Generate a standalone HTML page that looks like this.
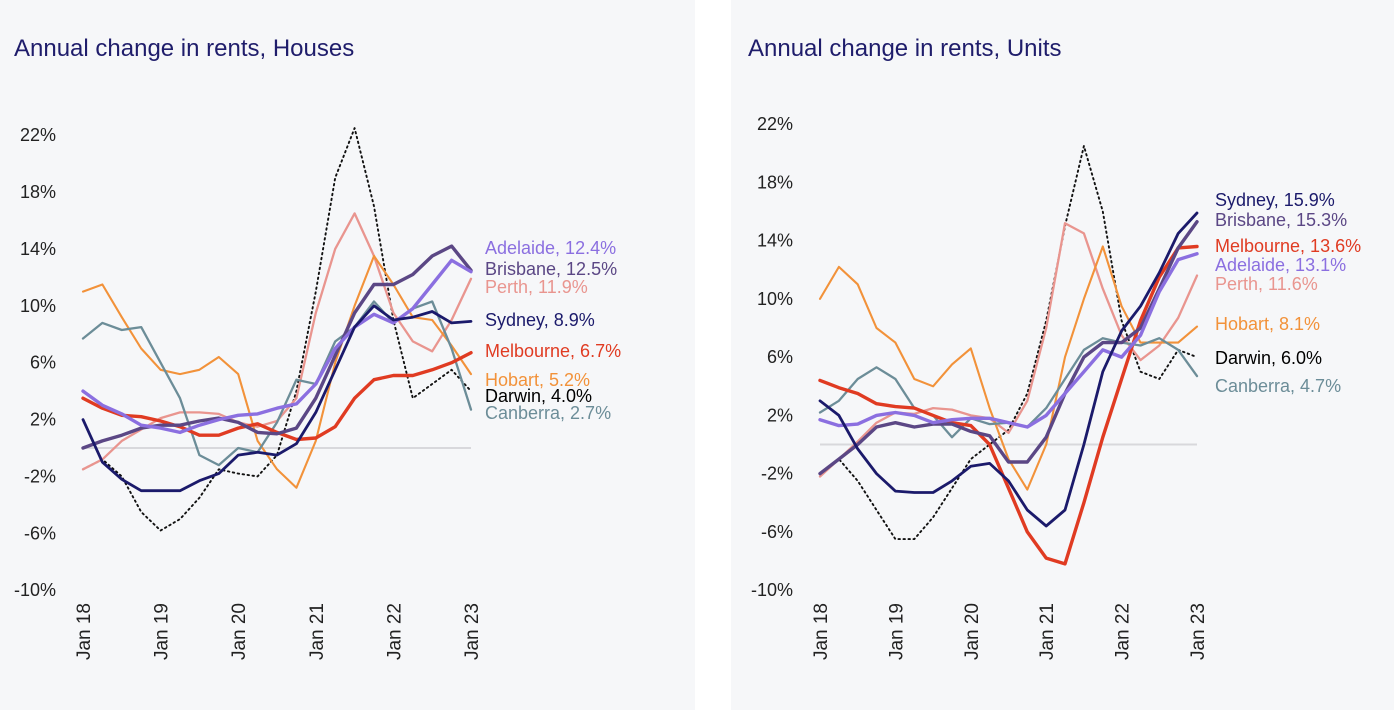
<!DOCTYPE html>
<html><head><meta charset="utf-8">
<style>
body{margin:0;background:#fff;width:1394px;height:710px;overflow:hidden;font-family:"Liberation Sans",sans-serif}
.panel{position:absolute;top:0;height:710px;background:#f6f7f9}
svg{position:absolute;left:0;top:0}
</style></head>
<body>
<div class="panel" style="left:0;width:695px"></div>
<div class="panel" style="left:731px;width:663px"></div>
<svg id="chart" width="1394" height="710"></svg>
<script>
const quarters = ["Jan 18","Apr 18","Jul 18","Oct 18","Jan 19","Apr 19","Jul 19","Oct 19","Jan 20","Apr 20","Jul 20","Oct 20","Jan 21","Apr 21","Jul 21","Oct 21","Jan 22","Apr 22","Jul 22","Oct 22","Jan 23"];
const xTickLabels = ["Jan 18","Jan 19","Jan 20","Jan 21","Jan 22","Jan 23"];
const yTicks = [22,18,14,10,6,2,-2,-6,-10];
const cities = ["Darwin","Perth","Hobart","Canberra","Melbourne","Brisbane","Adelaide","Sydney"];

const housesSydney = [2,-1,-2.2,-3,-3,-3,-2.3,-1.8,-0.5,-0.3,-0.5,0.3,2.5,5.5,8.5,10,9,9.2,9.6,8.8,8.9];
const housesAdelaide = [4,3,2.4,1.6,1.4,1.1,1.6,2,2.3,2.4,2.8,3.1,4.5,7,8.5,9.4,8.8,9.8,11.5,13.2,12.4];
const housesBrisbane = [0,0.5,0.9,1.4,1.6,1.6,1.9,2.1,1.8,1.1,1,1.4,3.5,6.5,9.5,11.5,11.5,12.2,13.5,14.2,12.5];
const housesPerth = [-1.5,-0.8,0.5,1.3,2.1,2.5,2.5,2.4,1.8,1.5,1.9,3.5,9.5,14,16.5,13.5,9.5,7.5,6.8,9,11.9];
const housesDarwin = [-1.5,-0.8,-2,-4.5,-5.8,-5,-3.5,-1.5,-1.8,-2,-0.5,4,11,19,22.5,17,9,3.5,4.5,5.5,4];
const housesMelbourne = [3.5,2.8,2.3,2.2,1.9,1.5,0.9,0.9,1.4,1.7,1.1,0.6,0.7,1.5,3.5,4.8,5.1,5.1,5.5,6,6.7];
const housesHobart = [11,11.5,9.2,7,5.5,5.2,5.5,6.4,5.2,0.5,-1.5,-2.8,0.5,6,10,13.5,11.5,9.2,9,7.2,5.2];
const housesCanberra = [7.7,8.8,8.3,8.5,6,3.5,-0.5,-1.2,0,-0.3,1.8,4.8,4.5,7.5,8.5,10.3,8.8,9.8,10.3,7,2.7];

const unitsSydney = [3,2,-0.3,-2,-3.2,-3.3,-3.3,-2.5,-1.5,-1.3,-2.5,-4.5,-5.6,-4.5,0,5,7.8,9.5,11.8,14.5,15.9];
const unitsBrisbane = [-2,-1,0,1.2,1.5,1.2,1.4,1.4,0.9,0.6,-1.2,-1.2,0.5,3.5,6,7,7,8,10.7,13.5,15.3];
const unitsMelbourne = [4.4,3.9,3.5,2.8,2.6,2.5,2,1.5,1.3,0,-3,-6,-7.8,-8.2,-4,0.5,4.5,8.5,11.5,13.5,13.6];
const unitsAdelaide = [1.7,1.3,1.4,2,2.2,2,1.5,1.7,1.8,1.8,1.5,1.2,2,3.5,5,6.5,6,7.5,10.5,12.7,13.1];
const unitsPerth = [-2.2,-1,0.2,1.5,2.2,2.1,2.5,2.4,2,1.8,0.8,3,8,15.2,14.5,10.7,7.5,5.8,6.8,8.7,11.6];
const unitsHobart = [10,12.2,11,8,7,4.5,4,5.5,6.6,2.5,-1,-3.1,0,6,10,13.6,9.5,7,7,7,8.1];
const unitsDarwin = [-2,-1,-2.5,-4.5,-6.5,-6.5,-5,-3,-1,0,1,3.5,8.5,15,20.5,16,8.5,5,4.5,6.5,6];
const unitsCanberra = [2.2,3,4.5,5.3,4.5,2.5,2,0.5,1.8,1.4,1.5,1.2,2.5,4.5,6.5,7.3,7,6.8,7.3,6.5,4.7];

const housesLabels = ["Adelaide, 12.4%","Brisbane, 12.5%","Perth, 11.9%","Sydney, 8.9%","Melbourne, 6.7%","Hobart, 5.2%","Darwin, 4.0%","Canberra, 2.7%"];
const unitsLabels = ["Sydney, 15.9%","Brisbane, 15.3%","Melbourne, 13.6%","Adelaide, 13.1%","Perth, 11.6%","Hobart, 8.1%","Darwin, 6.0%","Canberra, 4.7%"];

const style = {
  Sydney:{c:"#1b1a6b",w:2.8},Brisbane:{c:"#5b4785",w:3.4},Adelaide:{c:"#8b6fe0",w:3.4},
  Perth:{c:"#e9958f",w:2.3},Melbourne:{c:"#e03b22",w:3.4},Hobart:{c:"#f2923a",w:2.1},
  Darwin:{c:"#111",w:1.9,d:"1.5 3.5"},Canberra:{c:"#6c8d98",w:2.3}
};
const NS="http://www.w3.org/2000/svg";
const svg=document.getElementById('chart');
function mk(tag,attrs,parent){const e=document.createElementNS(NS,tag);for(const k in attrs)e.setAttribute(k,attrs[k]);(parent||svg).appendChild(e);return e;}

function drawChart(cfg){
  const g=mk('g',{});
  
  
  const xs=i=>cfg.x0+(cfg.x1-cfg.x0)*i/(quarters.length-1);
  const ys=v=>cfg.yZero-v*cfg.pxPer1;
  const t=mk('text',{x:cfg.titleX,y:56,fill:'#1f1d6b','font-size':24},g);
  t.textContent=cfg.title;
  
  
  yTicks.forEach(v=>{
    const tx=mk('text',{x:cfg.x0-27,y:ys(v)+6,'text-anchor':'end',fill:'#222','font-size':18},g);
    tx.textContent=v+'%';
    
    
  });
  xTickLabels.forEach((lab,i)=>{
    const x=xs(quarters.indexOf(lab));
    const tx=mk('text',{transform:`translate(${x+7},${cfg.xLabelTop}) rotate(-90)`,'text-anchor':'end',fill:'#222','font-size':19},g);
    tx.textContent=lab;
    
    
  });
  const zl=mk('line',{x1:cfg.x0,x2:cfg.x1,y1:ys(0),y2:ys(0),stroke:'#d8d8dc','stroke-width':2},g);
  
  
  cities.forEach(city=>{
    const vals=cfg.series[city];
    const st=style[city];
    const d=vals.map((v,i)=>(i?'L':'M')+xs(i).toFixed(1)+','+ys(v).toFixed(1)).join(' ');
    const p=mk('path',{d:d,fill:'none',stroke:st.c,'stroke-width':st.w,'stroke-linejoin':'round','stroke-linecap':'round'},g);
    if(st.d)p.setAttribute('stroke-dasharray',st.d);
    
    
  });
  cfg.labels.forEach((lab,i)=>{
    const city=lab.split(',')[0];
    const tx=mk('text',{x:cfg.labelX,y:cfg.labelY[i],fill:style[city].c==='#111'?'#000':style[city].c,'font-size':18},g);
    tx.textContent=lab;
    
    
  });
}

drawChart({id:'houses',title:'Annual change in rents, Houses',titleX:14,x0:83,x1:471,yZero:448,pxPer1:14.22,xLabelTop:603,labelX:485,
  labels:housesLabels,labelY:[254,275,293,326,357,386,402,419],
  series:{Sydney:housesSydney,Adelaide:housesAdelaide,Brisbane:housesBrisbane,Perth:housesPerth,Darwin:housesDarwin,Melbourne:housesMelbourne,Hobart:housesHobart,Canberra:housesCanberra}});
drawChart({id:'units',title:'Annual change in rents, Units',titleX:748,x0:820,x1:1197,yZero:444.5,pxPer1:14.56,xLabelTop:603,labelX:1215,
  labels:unitsLabels,labelY:[206,226,252,271,290,330,364,392],
  series:{Sydney:unitsSydney,Adelaide:unitsAdelaide,Brisbane:unitsBrisbane,Perth:unitsPerth,Darwin:unitsDarwin,Melbourne:unitsMelbourne,Hobart:unitsHobart,Canberra:unitsCanberra}});
</script>
</body></html>
